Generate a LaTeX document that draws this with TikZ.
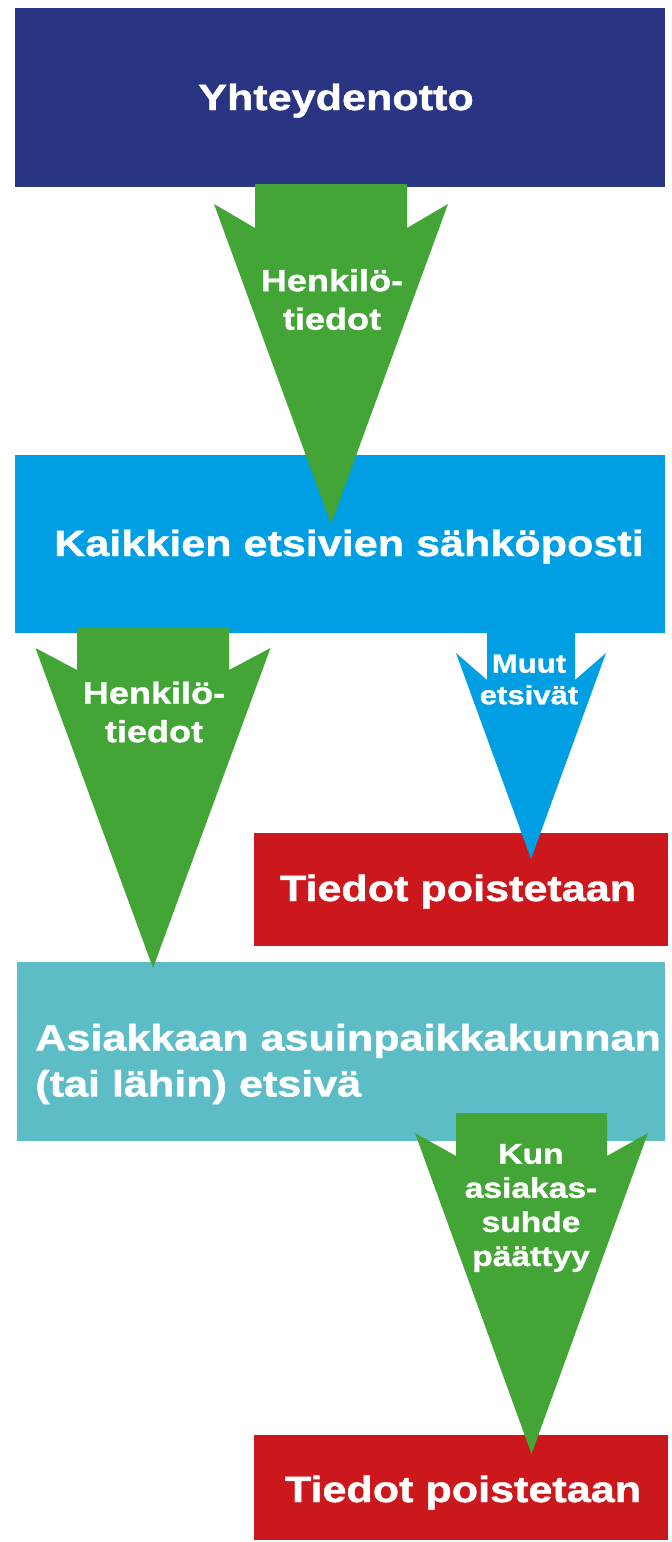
\documentclass[tikz,border=0pt]{standalone}
\usepackage{fontspec}
\newfontfamily\boxfont{Liberation Sans}[FakeStretch=1.18, FakeBold=1.2]
\definecolor{navy}{RGB}{41,53,130}
\definecolor{skyblue}{RGB}{0,159,227}
\definecolor{leafgreen}{RGB}{66,165,53}
\definecolor{alertred}{RGB}{204,23,28}
\definecolor{turquoise}{RGB}{93,189,198}
\begin{document}
\begin{tikzpicture}[x=0.02cm, y=-0.02cm,
  big/.style={text=white, inner sep=0, font=\boxfont\bfseries\fontsize{20.8}{26.2}\selectfont},
  small/.style={text=white, inner sep=0, align=center, font=\boxfont\bfseries\fontsize{17.4}{21.9}\selectfont}]
\useasboundingbox (0,0) rectangle (672,1542);
% boxes
\fill[navy] (15,8) rectangle (665,187);
\fill[skyblue] (15,455) rectangle (665,633);
\fill[alertred] (254,833) rectangle (668,946);
\fill[turquoise] (17,962) rectangle (665,1141);
\fill[alertred] (254,1435) rectangle (668,1540);
% arrows
\foreach \cx/\sw/\ww/\ty/\wy/\iy/\py/\col in {331/76/117/184/204/228/524/leafgreen, 153/76/117.5/627/648/670/968/leafgreen, 531/44/75/630/653/680/859/skyblue, 531.5/75.5/116.5/1113/1133/1156/1454/leafgreen}
{
    \fill[\col] (\cx-\sw,\ty)--(\cx+\sw,\ty)--(\cx+\sw,\iy)--(\cx+\ww,\wy)--(\cx,\py)--(\cx-\ww,\wy)--(\cx-\sw,\iy)--cycle;
}
% texts
\node (contact) at (336,110) [big, anchor=base]{Yhteydenotto};
\node (mail) at (349,556) [big, anchor=base]{Kaikkien etsivien sähköposti};
\node (delete1) at (458,901) [big, anchor=base]{Tiedot poistetaan};
\node (local) at (35,1064) [big, anchor=west, align=left]{Asiakkaan asuinpaikkakunnan\\(tai lähin) etsivä};
\node (delete2) at (463,1502) [big, anchor=base]{Tiedot poistetaan};
\node (data1) at (332,299.5) [small]{Henkilö-\\tiedot};
\node (data2) at (154,712) [small]{Henkilö-\\tiedot};
\node (others) at (529,679.5) [small, font=\boxfont\bfseries\fontsize{15}{18}\selectfont]{Muut\\etsivät};
\node (ends) at (531,1208) [small, font=\boxfont\bfseries\fontsize{16.2}{19.4}\selectfont]{Kun\\asiakas-\\suhde\\päättyy};
\end{tikzpicture}
\end{document}
